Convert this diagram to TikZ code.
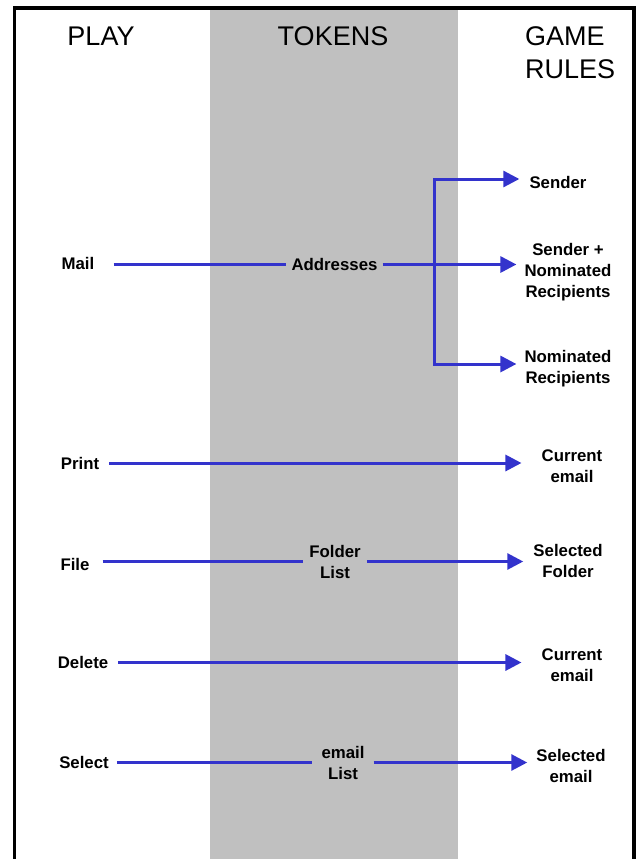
\documentclass[tikz,border=0pt]{standalone}
\usepackage{fontspec}
\setmainfont{Liberation Sans}
\usetikzlibrary{arrows.meta}
\definecolor{conncol}{HTML}{3333CC}
\definecolor{bandgrey}{HTML}{C0C0C0}
\begin{document}
\begin{tikzpicture}[x=1pt,y=-1pt,
  >={Triangle[length=16pt,width=16pt]},
  hdr/.style={font=\fontsize{27}{33}\selectfont, inner sep=0pt},
  lbl/.style={font=\fontsize{16.8}{21}\selectfont\bfseries, inner ysep=0pt, align=center},
  conn/.style={draw=conncol, line width=3pt},
  arr/.style={conn, ->}
]
\useasboundingbox (0,0) rectangle (641,859);
\clip (0,0) rectangle (641,859);
% background band and frame
\fill[bandgrey] (210,8) rectangle (458,859);
\draw[line width=3.5pt] (14.5,870) -- (14.5,8) -- (634,8) -- (634,870);

% headers
\node[hdr, anchor=north] (hplay) at (101,26.5) {PLAY};
\node[hdr, anchor=north] (htok) at (333,26.5) {TOKENS};
\node[hdr, anchor=north west, align=left] (hrules) at (525,26.5) {GAME\\RULES};

% Mail row
\node[lbl, inner xsep=19pt] (mail) at (78,263) {Mail};
\node[lbl, inner xsep=5pt] (addr) at (334.5,264.5) {Addresses};
\node[lbl, inner xsep=10pt] (sender) at (558,182) {Sender};
\node[lbl, inner xsep=8pt] (sendnom) at (568,271.8) {Sender +\\Nominated\\Recipients};
\node[lbl, inner xsep=8pt] (nomrec) at (568,368.8) {Nominated\\Recipients};
\coordinate (jtop) at (434,179);
\coordinate (jbot) at (434,364);
\draw[conn] (mail.east |- addr.west) -- (addr.west);
\draw[arr] (addr.east) -- (addr.east -| sendnom.west);
\draw[conn, <->, line join=miter] (jtop -| sender.west) -- (jtop) -- (jbot) -- (jbot -| nomrec.west);

% Print row
\node[lbl, inner xsep=10pt] (print) at (80,463) {Print};
\node[lbl, inner xsep=20pt] (cura) at (572,466) {Current\\email};
\draw[arr] (print.east) -- (print.east -| cura.west);

% File row
\node[lbl, inner xsep=13pt] (file) at (75,564) {File};
\node[lbl, inner xsep=6pt] (folder) at (335,561.5) {Folder\\List};
\node[lbl, inner xsep=10pt] (selfolder) at (568,561) {Selected\\Folder};
\draw[conn] (file.east |- folder.west) -- (folder.west);
\draw[arr] (folder.east) -- (folder.east -| selfolder.west);

% Delete row
\node[lbl, inner xsep=10pt] (delete) at (83,662.5) {Delete};
\node[lbl, inner xsep=20pt] (curb) at (572,665) {Current\\email};
\draw[arr] (delete.east) -- (delete.east -| curb.west);

% Select row
\node[lbl, inner xsep=8pt] (select) at (84,762) {Select};
\node[lbl, inner xsep=9pt] (elist) at (343,762.5) {email\\List};
\node[lbl, inner xsep=9pt] (selemail) at (571,766) {Selected\\email};
\draw[conn] (select.east |- elist.west) -- (elist.west);
\draw[arr] (elist.east) -- (elist.east -| selemail.west);
\end{tikzpicture}
\end{document}
